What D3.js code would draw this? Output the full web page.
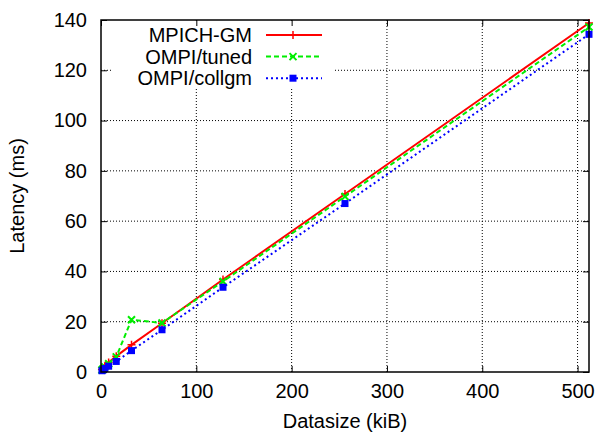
<!DOCTYPE html>
<html>
<head>
<meta charset="utf-8">
<script src="https://cdn.jsdelivr.net/npm/d3@7"></script>
<style>
  body { margin: 0; background: #fff; }
  text { font-family: "Liberation Sans", Arial, sans-serif; fill: #000; }
</style>
</head>
<body>
<div id="chart"></div>
<script>
// datasize in kiB
const sizes = [1, 2, 4, 8, 16, 32, 64, 128, 256, 512];
// latency in ms per implementation
const mpichGM = [1.0, 1.5, 2.3, 3.8, 6.3, 10.8, 19.4, 36.8, 70.8, 138.8];
const ompiTuned = [0.8, 1.2, 2.0, 3.3, 6.0, 20.8, 19.5, 36.0, 69.8, 137.2];
const ompiCollgm = [0.5, 0.8, 1.4, 2.3, 4.2, 8.5, 16.8, 33.7, 67.0, 134.3];
const seriesNames = ['MPICH-GM', 'OMPI/tuned', 'OMPI/collgm'];
const xTicks = [0, 100, 200, 300, 400, 500];
const yTicks = [0, 20, 40, 60, 80, 100, 120, 140];

const W = 597, H = 436;
const margin = {top: 20, right: 8, bottom: 64, left: 101};
const width = W - margin.left - margin.right;
const height = H - margin.top - margin.bottom;
const fontSize = '20px';

const svg = d3.select('#chart').append('svg')
    .attr('width', W)
    .attr('height', H);

const g = svg.append('g')
    .attr('transform', `translate(${margin.left},${margin.top})`);

const x = d3.scaleLinear().domain([0, 512]).range([0, width]);
const y = d3.scaleLinear().domain([0, 140]).range([height, 0]);

// grid
g.append('g').selectAll('line')
    .data(xTicks.filter(d => d > 0))
    .join('line')
    .attr('x1', d => x(d)).attr('x2', d => x(d))
    .attr('y1', 0).attr('y2', height)
    .attr('stroke', '#000').attr('stroke-width', 1)
    .attr('stroke-dasharray', '1,2');
g.append('g').selectAll('line')
    .data(yTicks.filter(d => d > 0 && d < 140))
    .join('line')
    .attr('x1', 0).attr('x2', width)
    .attr('y1', d => y(d)).attr('y2', d => y(d))
    .attr('stroke', '#000').attr('stroke-width', 1)
    .attr('stroke-dasharray', '1,2');

// key background hides the grid behind it
g.append('rect')
    .attr('x', 12).attr('y', 3)
    .attr('width', 222).attr('height', 66)
    .attr('fill', '#fff');

// axes with inward ticks, mirrored on top and right
const xAxis = d3.axisBottom(x).tickValues(xTicks).tickSizeInner(-6).tickSizeOuter(0).tickPadding(12);
const yAxis = d3.axisLeft(y).tickValues(yTicks).tickSizeInner(-6).tickSizeOuter(0).tickPadding(14);

g.append('g').attr('transform', `translate(0,${height})`).call(xAxis)
    .call(a => a.select('.domain').remove())
    .selectAll('text').style('font-size', fontSize);
g.append('g').call(yAxis)
    .call(a => a.select('.domain').remove())
    .selectAll('text').style('font-size', fontSize);
g.append('g').call(d3.axisTop(x).tickValues(xTicks).tickSizeInner(-6).tickSizeOuter(0).tickFormat(''))
    .call(a => a.select('.domain').remove());
g.append('g').attr('transform', `translate(${width},0)`)
    .call(d3.axisRight(y).tickValues(yTicks).tickSizeInner(-6).tickSizeOuter(0).tickFormat(''))
    .call(a => a.select('.domain').remove());
g.selectAll('.tick line').attr('stroke', '#000').attr('stroke-width', 1);

const series = [
    {name: seriesNames[0], values: mpichGM, color: '#ff0000', dash: null, marker: 'plus'},
    {name: seriesNames[1], values: ompiTuned, color: '#00ee00', dash: '5,3', marker: 'cross'},
    {name: seriesNames[2], values: ompiCollgm, color: '#0000ff', dash: '2,3', marker: 'square'}
];

const line = d3.line().x(d => x(d[0])).y(d => y(d[1]));

function drawMarker(sel, type, color) {
    if (type === 'square') {
        sel.append('rect').attr('x', -3.5).attr('y', -3.5).attr('width', 7).attr('height', 7)
            .attr('fill', color);
    } else if (type === 'plus') {
        sel.append('path').attr('d', 'M-4,0H4M0,-4V4')
            .attr('stroke', color).attr('stroke-width', 1.5).attr('fill', 'none');
    } else {
        sel.append('path').attr('d', 'M-3.5,-3.5L3.5,3.5M-3.5,3.5L3.5,-3.5')
            .attr('stroke', color).attr('stroke-width', 2).attr('fill', 'none');
    }
}

series.forEach(s => {
    const pts = sizes.map((d, i) => [d, s.values[i]]);
    g.append('path')
        .datum(pts)
        .attr('d', line)
        .attr('fill', 'none')
        .attr('stroke', s.color)
        .attr('stroke-width', 2)
        .attr('stroke-dasharray', s.dash);
    g.append('g').selectAll('g')
        .data(pts)
        .join('g')
        .attr('transform', d => `translate(${x(d[0])},${y(d[1])})`)
        .each(function() { drawMarker(d3.select(this), s.marker, s.color); });
});

// border
g.append('rect')
    .attr('width', width).attr('height', height)
    .attr('fill', 'none').attr('stroke', '#000').attr('stroke-width', 1.5);

// key
const key = g.append('g');
series.forEach((s, i) => {
    const ky = 15 + i * 21.6;
    key.append('text')
        .attr('x', 151).attr('y', ky).attr('dy', '0.35em')
        .attr('text-anchor', 'end')
        .style('font-size', fontSize)
        .text(s.name);
    key.append('line')
        .attr('x1', 165).attr('x2', 221)
        .attr('y1', ky).attr('y2', ky)
        .attr('stroke', s.color).attr('stroke-width', 2)
        .attr('stroke-dasharray', s.dash);
    drawMarker(key.append('g').attr('transform', `translate(192,${ky})`), s.marker, s.color);
});

// axis titles
svg.append('text')
    .attr('x', margin.left + width / 2).attr('y', 428)
    .attr('text-anchor', 'middle')
    .style('font-size', fontSize)
    .text('Datasize (kiB)');
svg.append('text')
    .attr('transform', `translate(24,${margin.top + height / 2}) rotate(-90)`)
    .attr('text-anchor', 'middle')
    .style('font-size', fontSize)
    .text('Latency (ms)');
</script>
</body>
</html>
